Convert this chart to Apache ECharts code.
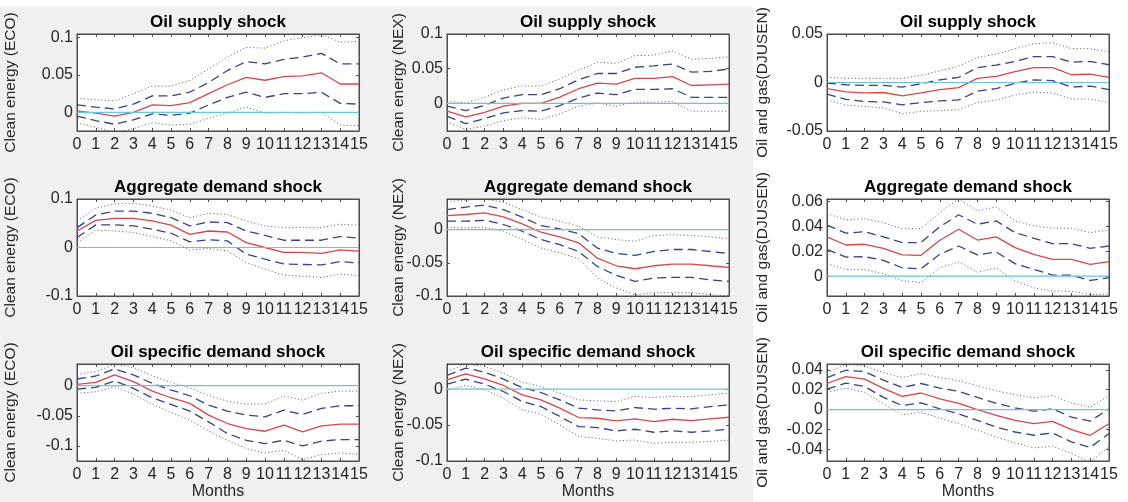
<!DOCTYPE html>
<html><head><meta charset="utf-8">
<script src="https://cdn.jsdelivr.net/npm/echarts@6/dist/echarts.min.js"></script>
<style>html,body{margin:0;padding:0;background:#fff}#c{width:1128px;height:502px}</style>
</head><body><div id="c"></div>
<script>
// ---------- DATA ----------
const months = [0,1,2,3,4,5,6,7,8,9,10,11,12,13,14,15];
const shockTitles = ['Oil supply shock','Aggregate demand shock','Oil specific demand shock'];
const yLabels = ['Clean energy (ECO)','Clean energy (NEX)','Oil and gas(DJUSEN)'];
const xName = 'Months';

// Clean energy (ECO) – Oil supply shock
const ecoSupplyMed  = [0.002,-0.001,-0.005,0.000,0.010,0.009,0.013,0.025,0.037,0.047,0.043,0.048,0.049,0.053,0.038,0.038];
const ecoSupplyUp68 = [0.010,0.007,0.0045,0.011,0.022,0.022,0.027,0.040,0.056,0.068,0.065,0.071,0.074,0.079,0.065,0.065];
const ecoSupplyLo68 = [-0.005,-0.011,-0.016,-0.010,-0.002,-0.004,-0.001,0.010,0.020,0.027,0.020,0.025,0.025,0.027,0.012,0.011];
const ecoSupplyUp90 = [0.019,0.017,0.0155,0.025,0.035,0.035,0.043,0.058,0.074,0.087,0.086,0.096,0.100,0.104,0.094,0.095];
const ecoSupplyLo90 = [-0.014,-0.020,-0.027,-0.022,-0.014,-0.017,-0.016,-0.008,-0.001,0.007,-0.001,0.000,-0.001,0.000,-0.017,-0.018];
const ecoSupplyRange = [-0.025, 0.105];
const ecoSupplyTicks = [0, 0.05, 0.1];

// Clean energy (NEX) – Oil supply shock
const nexSupplyMed  = [-0.0114,-0.0195,-0.013,-0.004,0.0,0.0,0.009,0.021,0.029,0.0276,0.036,0.036,0.0386,0.0257,0.0267,0.0276];
const nexSupplyUp68 = [-0.004,-0.0105,-0.003,0.0076,0.0124,0.0124,0.021,0.034,0.043,0.043,0.052,0.054,0.0567,0.045,0.046,0.0495];
const nexSupplyLo68 = [-0.0186,-0.0295,-0.022,-0.0138,-0.0105,-0.0114,-0.0033,0.0076,0.0148,0.0124,0.020,0.020,0.021,0.0086,0.0086,0.0086];
const nexSupplyUp90 = [0.0029,0.0005,0.0086,0.0195,0.025,0.025,0.035,0.048,0.059,0.0576,0.0686,0.0695,0.0757,0.0638,0.0648,0.0671];
const nexSupplyLo90 = [-0.0267,-0.0376,-0.033,-0.025,-0.021,-0.0233,-0.0152,-0.0043,0.0005,-0.0043,0.002,0.0014,0.003,-0.0114,-0.0114,-0.0114];
const nexSupplyRange = [-0.04, 0.1];
const nexSupplyTicks = [0, 0.05, 0.1];

// Oil and gas (DJUSEN) – Oil supply shock
const djSupplyMed  = [-0.0063,-0.0097,-0.0107,-0.0103,-0.0137,-0.0107,-0.0073,-0.0053,0.0043,0.0063,0.0113,0.0153,0.0153,0.008,0.0087,0.0053];
const djSupplyUp68 = [-0.0007,-0.0023,-0.003,-0.003,-0.0047,-0.0013,0.0027,0.0053,0.0153,0.018,0.0217,0.0267,0.0267,0.021,0.0217,0.0183];
const djSupplyLo68 = [-0.012,-0.0173,-0.0197,-0.020,-0.023,-0.0207,-0.019,-0.018,-0.009,-0.0063,-0.0007,0.0027,0.002,-0.0047,-0.0037,-0.0073];
const djSupplyUp90 = [0.0053,0.0043,0.0043,0.0043,0.0043,0.0073,0.012,0.0167,0.0257,0.0293,0.0347,0.040,0.041,0.035,0.0347,0.0317];
const djSupplyLo90 = [-0.018,-0.0233,-0.0247,-0.0263,-0.032,-0.0297,-0.029,-0.028,-0.0207,-0.018,-0.013,-0.010,-0.0107,-0.017,-0.017,-0.0207];
const djSupplyRange = [-0.05, 0.05];
const djSupplyTicks = [-0.05, 0, 0.05];

// Clean energy (ECO) – Aggregate demand shock
const ecoAggMed  = [0.034,0.056,0.060,0.060,0.055,0.046,0.027,0.034,0.032,0.010,0.0,-0.010,-0.010,-0.012,-0.005,-0.0075];
const ecoAggUp68 = [0.041,0.067,0.075,0.075,0.0705,0.0616,0.0445,0.0527,0.0514,0.034,0.025,0.015,0.015,0.015,0.0226,0.019];
const ecoAggLo68 = [0.0205,0.0466,0.0466,0.0445,0.0377,0.0295,0.0116,0.0158,0.0137,-0.0137,-0.024,-0.034,-0.035,-0.036,-0.029,-0.032];
const ecoAggUp90 = [0.055,0.081,0.090,0.091,0.0856,0.077,0.0616,0.0705,0.068,0.055,0.0445,0.041,0.041,0.041,0.048,0.046];
const ecoAggLo90 = [0.010,0.036,0.034,0.031,0.0226,0.0137,-0.005,-0.002,-0.007,-0.031,-0.0445,-0.057,-0.0596,-0.0616,-0.055,-0.058];
const ecoAggRange = [-0.1, 0.1];
const ecoAggTicks = [-0.1, 0, 0.1];

// Clean energy (NEX) – Aggregate demand shock
const nexAggMed  = [0.021,0.0227,0.025,0.019,0.0086,-0.004,-0.011,-0.020,-0.043,-0.0545,-0.059,-0.0545,-0.052,-0.052,-0.0545,-0.057];
const nexAggUp68 = [0.030,0.0338,0.0369,0.030,0.0187,0.006,0.001,-0.006,-0.0278,-0.036,-0.039,-0.033,-0.030,-0.030,-0.033,-0.036];
const nexAggLo68 = [0.0126,0.0126,0.014,0.0076,-0.0025,-0.015,-0.0227,-0.033,-0.0556,-0.069,-0.078,-0.073,-0.072,-0.072,-0.0758,-0.078];
const nexAggUp90 = [0.042,0.0444,0.046,0.041,0.030,0.019,0.0126,0.005,-0.011,-0.015,-0.0177,-0.009,-0.0076,-0.009,-0.011,-0.014];
const nexAggLo90 = [0.0035,0.0025,0.0035,-0.0025,-0.015,-0.0278,-0.035,-0.044,-0.073,-0.088,-0.098,-0.095,-0.095,-0.095,-0.098,-0.1];
const nexAggRange = [-0.1, 0.046];
const nexAggTicks = [-0.1, -0.05, 0];

// Oil and gas (DJUSEN) – Aggregate demand shock
const djAggMed  = [0.0315,0.025,0.0256,0.0223,0.017,0.0167,0.0288,0.0377,0.029,0.0315,0.0229,0.0175,0.0135,0.0135,0.0094,0.0116];
const djAggUp68 = [0.041,0.0345,0.0358,0.0315,0.027,0.027,0.0396,0.0493,0.0417,0.0444,0.035,0.0304,0.0261,0.0261,0.0223,0.0242];
const djAggLo68 = [0.0215,0.0153,0.0156,0.0127,0.0067,0.0059,0.0175,0.0242,0.017,0.0194,0.010,0.0054,0.0008,0.0008,-0.0035,-0.0013];
const djAggUp90 = [0.0503,0.0452,0.0463,0.043,0.0382,0.0382,0.0511,0.062,0.0525,0.0557,0.0444,0.0404,0.0385,0.0385,0.035,0.0371];
const djAggLo90 = [0.010,0.0054,0.0054,0.0019,-0.0035,-0.0054,0.0067,0.0113,0.0032,0.0067,-0.004,-0.0094,-0.0121,-0.0121,-0.0148,-0.0143];
const djAggRange = [-0.016, 0.062];
const djAggTicks = [0, 0.02, 0.04, 0.06];

// Clean energy (ECO) – Oil specific demand shock
const ecoOilMed  = [0.0022,0.0056,0.0178,0.0067,-0.0089,-0.020,-0.0294,-0.0489,-0.0628,-0.0711,-0.0756,-0.0656,-0.0767,-0.0667,-0.0639,-0.0639];
const ecoOilUp68 = [0.0111,0.0161,0.0278,0.0178,0.0039,-0.0072,-0.0167,-0.0322,-0.0422,-0.0489,-0.0517,-0.0406,-0.0478,-0.0378,-0.0333,-0.0333];
const ecoOilLo68 = [-0.0056,-0.0028,0.0078,-0.0044,-0.020,-0.0311,-0.0422,-0.060,-0.0794,-0.0906,-0.096,-0.0906,-0.100,-0.0922,-0.0894,-0.0894];
const ecoOilUp90 = [0.0189,0.0233,0.0356,0.030,0.0167,0.0056,-0.0033,-0.0167,-0.0256,-0.0306,-0.0306,-0.0172,-0.0239,-0.0128,-0.0089,-0.0089];
const ecoOilLo90 = [-0.0128,-0.010,-0.0017,-0.0139,-0.0306,-0.0444,-0.0572,-0.0756,-0.0906,-0.1044,-0.1117,-0.1072,-0.1228,-0.1144,-0.1117,-0.1144];
const ecoOilRange = [-0.125, 0.036];
const ecoOilTicks = [-0.1, -0.05, 0];

// Clean energy (NEX) – Oil specific demand shock
const nexOilMed  = [0.013,0.0214,0.0144,0.0051,-0.0079,-0.0149,-0.0265,-0.0395,-0.0405,-0.0442,-0.0414,-0.0451,-0.0419,-0.0437,-0.0414,-0.0391];
const nexOilUp68 = [0.0191,0.0293,0.0237,0.014,0.0023,-0.0047,-0.0149,-0.0265,-0.0288,-0.0302,-0.0256,-0.0279,-0.0265,-0.0274,-0.0242,-0.0219];
const nexOilLo68 = [0.007,0.014,0.007,-0.0033,-0.0172,-0.0242,-0.0381,-0.0521,-0.0535,-0.0581,-0.0558,-0.060,-0.0581,-0.060,-0.0581,-0.0558];
const nexOilUp90 = [0.0247,0.0349,0.0316,0.0223,0.0098,0.0037,-0.0056,-0.0149,-0.0163,-0.0172,-0.0102,-0.0116,-0.0102,-0.0102,-0.0079,-0.0056];
const nexOilLo90 = [-0.0009,0.0051,-0.0009,-0.0126,-0.0288,-0.0349,-0.0498,-0.066,-0.0684,-0.0721,-0.0707,-0.0753,-0.074,-0.074,-0.073,-0.0707];
const nexOilRange = [-0.1, 0.035];
const nexOilTicks = [-0.1, -0.05, 0];

// Oil and gas (DJUSEN) – Oil specific demand shock
const djOilMed  = [0.0263,0.0333,0.0307,0.0213,0.0133,0.0167,0.0107,0.0063,0.0,-0.006,-0.011,-0.0143,-0.012,-0.0203,-0.026,-0.0143];
const djOilUp68 = [0.0323,0.0397,0.0383,0.0297,0.0223,0.0263,0.0217,0.0183,0.0123,0.0063,0.0017,-0.0017,0.0007,-0.0077,-0.0117,0.0007];
const djOilLo68 = [0.0207,0.0267,0.0233,0.0123,0.004,0.0067,0.0007,-0.0043,-0.011,-0.0177,-0.0227,-0.026,-0.0237,-0.0327,-0.0383,-0.0243];
const djOilUp90 = [0.0373,0.0457,0.044,0.0373,0.0323,0.0363,0.0323,0.029,0.024,0.019,0.015,0.0117,0.014,0.0067,0.0023,0.014];
const djOilLo90 = [0.0173,0.0217,0.0173,0.0057,-0.0053,-0.0027,-0.0087,-0.0143,-0.021,-0.0277,-0.0337,-0.0387,-0.037,-0.0443,-0.053,-0.0377];
const djOilRange = [-0.052, 0.046];
const djOilTicks = [-0.04, -0.02, 0, 0.02, 0.04];

// ---------- PANEL ASSEMBLY ----------
const panels = [
  {r:0,c:0,lines:[ecoSupplyUp90,ecoSupplyLo90,ecoSupplyUp68,ecoSupplyLo68,ecoSupplyMed],range:ecoSupplyRange,ticks:ecoSupplyTicks},
  {r:0,c:1,lines:[nexSupplyUp90,nexSupplyLo90,nexSupplyUp68,nexSupplyLo68,nexSupplyMed],range:nexSupplyRange,ticks:nexSupplyTicks},
  {r:0,c:2,lines:[djSupplyUp90,djSupplyLo90,djSupplyUp68,djSupplyLo68,djSupplyMed],range:djSupplyRange,ticks:djSupplyTicks},
  {r:1,c:0,lines:[ecoAggUp90,ecoAggLo90,ecoAggUp68,ecoAggLo68,ecoAggMed],range:ecoAggRange,ticks:ecoAggTicks},
  {r:1,c:1,lines:[nexAggUp90,nexAggLo90,nexAggUp68,nexAggLo68,nexAggMed],range:nexAggRange,ticks:nexAggTicks},
  {r:1,c:2,lines:[djAggUp90,djAggLo90,djAggUp68,djAggLo68,djAggMed],range:djAggRange,ticks:djAggTicks},
  {r:2,c:0,lines:[ecoOilUp90,ecoOilLo90,ecoOilUp68,ecoOilLo68,ecoOilMed],range:ecoOilRange,ticks:ecoOilTicks},
  {r:2,c:1,lines:[nexOilUp90,nexOilLo90,nexOilUp68,nexOilLo68,nexOilMed],range:nexOilRange,ticks:nexOilTicks},
  {r:2,c:2,lines:[djOilUp90,djOilLo90,djOilUp68,djOilLo68,djOilMed],range:djOilRange,ticks:djOilTicks}
];

// ---------- LAYOUT & STYLE ----------
const FONT = "'Liberation Sans', Arial, Helvetica, sans-serif";
const colLeft = [77, 447, 827];
const rowTop = [34, 199, 364];
const PW = 282, PH = 97;
const ylabX = [11, 399, 763];
const AX = '#4d4d4d', TXT = '#262626';
const lineStyles = [
  {color:'#5a5a5a', width:1, type:[1,2.5]},
  {color:'#5a5a5a', width:1, type:[1,2.5]},
  {color:'#37428a', width:1.3, type:[9,5]},
  {color:'#37428a', width:1.3, type:[9,5]},
  {color:'#d9474a', width:1.3, type:'solid'}
];
const fmt = v => String(Math.round(v*1000)/1000);

const grid = [], xAxis = [], yAxis = [], series = [], title = [];
const graphic = [{type:'rect', z:-10, shape:{x:0,y:6,width:753,height:496}, style:{fill:'#f0f0f0'}}];

panels.forEach((p, i) => {
  const left = colLeft[p.c], top = rowTop[p.r];
  grid.push({left:left, top:top, width:PW, height:PH, show:true, backgroundColor:'#ffffff', borderColor:AX, borderWidth:1, containLabel:false});
  const xb = {type:'value', gridIndex:i, min:0, max:15, interval:1,
    axisLine:{show:true, onZero:false, lineStyle:{color:AX}},
    axisTick:{show:true, inside:true, length:3, lineStyle:{color:AX}},
    axisLabel:{show:true, fontSize:16, color:TXT, fontFamily:FONT, margin:6, formatter: v => String(v)},
    splitLine:{show:false}};
  if (p.r === 2) {
    xb.name = xName; xb.nameLocation = 'middle'; xb.nameGap = 20;
    xb.nameTextStyle = {fontSize:16, color:TXT, fontFamily:FONT};
  }
  xAxis.push(xb);
  xAxis.push({type:'value', gridIndex:i, position:'top', min:0, max:15, interval:1,
    axisLine:{show:true, onZero:false, lineStyle:{color:AX}},
    axisTick:{show:true, inside:true, length:3, lineStyle:{color:AX}},
    axisLabel:{show:false}, splitLine:{show:false}});
  yAxis.push({type:'value', gridIndex:i, min:p.range[0], max:p.range[1],
    axisLine:{show:true, onZero:false, lineStyle:{color:AX}},
    axisTick:{show:true, inside:true, length:3, lineStyle:{color:AX}, customValues:p.ticks},
    axisLabel:{show:true, fontSize:16, color:TXT, fontFamily:FONT, margin:4, customValues:p.ticks, formatter:fmt},
    splitLine:{show:false}});
  yAxis.push({type:'value', gridIndex:i, position:'right', min:p.range[0], max:p.range[1],
    axisLine:{show:true, onZero:false, lineStyle:{color:AX}},
    axisTick:{show:true, inside:true, length:3, lineStyle:{color:AX}, customValues:p.ticks},
    axisLabel:{show:false}, splitLine:{show:false}});
  p.lines.forEach((arr, k) => {
    series.push({type:'line', xAxisIndex:2*i, yAxisIndex:2*i, symbol:'none', silent:true, clip:true,
      lineStyle:lineStyles[k], data: months.map((m, j) => [m, arr[j]])});
  });
  series.push({type:'line', xAxisIndex:2*i, yAxisIndex:2*i, symbol:'none', silent:true,
    lineStyle:{color:'#6cc4d8', width:1.2}, data:[[months[0],0],[months[months.length-1],0]]});
  title.push({text:shockTitles[p.r], left:left + PW/2, top:top - 20, textAlign:'center', padding:0,
    textStyle:{fontSize:17, fontWeight:'bold', color:'#000', fontFamily:FONT}});
  graphic.push({type:'text', x:ylabX[p.c], y:top + PH/2, rotation:Math.PI/2, z:5,
    style:{text:yLabels[p.c], fontSize:15.5, fontFamily:FONT, fill:TXT, align:'center', verticalAlign:'middle'}});
});

const chart = echarts.init(document.getElementById('c'), null, {renderer:'canvas'});
chart.setOption({animation:false, backgroundColor:'#ffffff', title, grid, xAxis, yAxis, series, graphic});
</script>
</body></html>
